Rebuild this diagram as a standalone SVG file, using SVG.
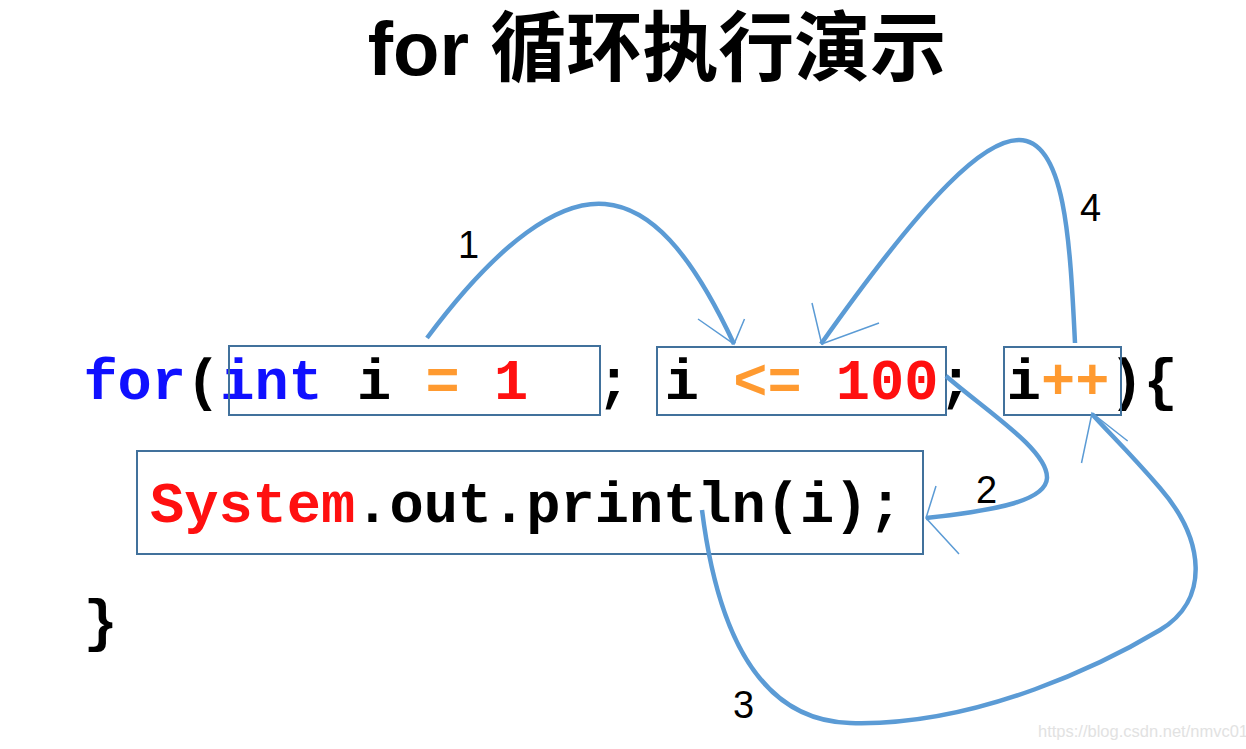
<svg xmlns="http://www.w3.org/2000/svg" width="1246" height="749" viewBox="0 0 1246 749">
<style>
.title{font-family:"Liberation Sans","Noto Sans CJK SC",sans-serif;font-weight:bold;font-size:76px;fill:#000}
.code{font-family:"Liberation Mono",monospace;font-weight:bold;font-size:57px;fill:#000}
.kw{fill:#1010ff}
.op{fill:#ff9a30}
.num{fill:#ff1010}
.box{fill:none;stroke:#41719c;stroke-width:2}
.edge{fill:none;stroke:#5b9bd5;stroke-width:4.5;stroke-linecap:butt}
.head{fill:none;stroke:#5b9bd5;stroke-width:1.5}
.lbl{font-family:"Liberation Sans",sans-serif;font-size:38px;fill:#000}
.wm{font-family:"Liberation Sans",sans-serif;font-size:16.5px;fill:#e2e2e2}
</style>
<rect width="1246" height="749" fill="#fff"/>
<text class="title" x="657" y="75" text-anchor="middle">for 循环执行演示</text>

<g id="code-frame" class="code">
<text x="83.4" y="399"><tspan class="kw">for</tspan>(</text>
<text x="596.4" y="399">;</text>
<text x="938.4" y="399">;</text>
<text x="1109.4" y="399">){</text>
<text x="83.4" y="640">}</text>
</g>

<g id="n-init">
<text class="code" x="220.2" y="399" xml:space="preserve"><tspan class="kw">int</tspan> i <tspan class="op">=</tspan> <tspan class="num">1</tspan></text>
<rect class="box" x="229" y="346" width="371" height="69"/>
</g>
<g id="n-cond">
<text class="code" x="664.8" y="399" xml:space="preserve">i <tspan class="op">&lt;=</tspan> <tspan class="num">100</tspan></text>
<rect class="box" x="657" y="347" width="289" height="68"/>
</g>
<g id="n-update">
<text class="code" x="1006.8" y="399">i<tspan class="op">++</tspan></text>
<rect class="box" x="1004" y="347" width="117" height="68"/>
</g>
<g id="n-body">
<text class="code" x="150" y="522"><tspan class="num">System</tspan>.out.println(i);</text>
<rect class="box" x="137" y="451" width="786" height="103"/>
</g>

<g id="connectors">
<path class="edge" d="M427,338 C500,240 560,200 605,204 C650,208 690,250 734,344"/>
<polyline class="head" points="698,319 734,344 744.5,319"/>
<path class="edge" d="M946,376 C985,410 1048,450 1047,478 C1046,500 1000,510 926,518"/>
<polyline class="head" points="936,486 926,518 959,554"/>
<path class="edge" d="M702,510 C712,590 740,720 850,723 C980,727 1110,660 1160,630 C1210,600 1205,540 1160,488 C1130,453 1108,432 1092,414"/>
<polyline class="head" points="1081.5,463 1092,413 1127.7,441"/>
<path class="edge" d="M1075,343 C1070,240 1065,140 1019,140 C985,140 930,190 821,344"/>
<polyline class="head" points="812,303 821.7,344 879,323"/>
<text class="lbl" x="458" y="258">1</text>
<text class="lbl" x="976" y="503">2</text>
<text class="lbl" x="733" y="718">3</text>
<text class="lbl" x="1080" y="221">4</text>
</g>

<text class="wm" x="1038" y="737">https://blog.csdn.net/nmvc01</text>
</svg>
